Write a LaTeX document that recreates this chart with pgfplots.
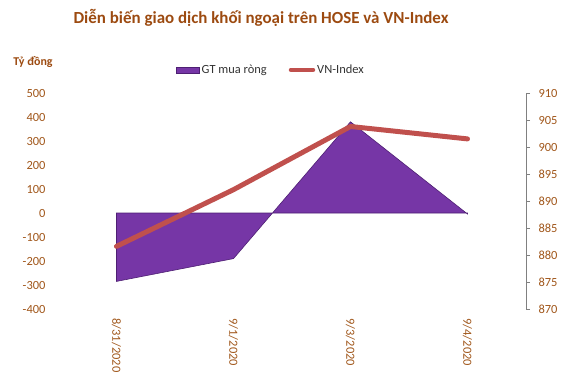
\documentclass[border=0pt]{standalone}
\usepackage{fontspec}
\setmainfont{Carlito}
\usepackage{pgfplots}
\pgfplotsset{compat=1.18}
\definecolor{titlec}{HTML}{9C4A10}
\definecolor{tickc}{HTML}{A0561A}
\definecolor{areac}{HTML}{7636A6}
\definecolor{areadark}{HTML}{4E1F73}
\definecolor{linec}{HTML}{C0504D}
\begin{document}
\begin{tikzpicture}
\useasboundingbox (0,0) rectangle (573bp,-376bp);
\node[font=\fontsize{17}{20}\selectfont\bfseries, text=titlec] at (261bp,-18bp) {Diễn biến giao dịch khối ngoại trên HOSE và VN-Index};
\node[font=\fontsize{12}{14}\selectfont\bfseries, text=titlec] at (33bp,-62bp) {Tỷ đồng};
\begin{axis}[
  at={(58bp,-309bp)}, anchor=south west,
  width=468bp, height=216bp, scale only axis,
  xmin=-0.5, xmax=3.5, ymin=-400, ymax=500,
  axis x line*=bottom, axis y line*=left,
  axis line style={draw=none},
  major tick length=0pt,
  xtick={0,1,2,3},
  xticklabels={8/31/2020,9/1/2020,9/3/2020,9/4/2020},
  x tick label style={yshift=-6bp, rotate=-90, anchor=west, font=\fontsize{12.5}{14}\selectfont, text=tickc},
  ytick={-400,-300,...,500},
  y tick label style={xshift=-9bp, font=\fontsize{12.5}{14}\selectfont, text=tickc},
  /pgf/number format/assume math mode=true,
  legend style={at={(0.455,1.107)}, anchor=center, draw=none, fill=none,
    font=\fontsize{12.5}{14}\selectfont, text=black!80, legend columns=2,
    /tikz/every even column/.append style={column sep=20bp}},
  legend cell align=left,
]
\addplot[fill=areac, draw=areadark, line width=0.6pt,
  area legend,
  legend image code/.code={\draw[fill=areac, draw=areadark] (0bp,-3bp) rectangle (23bp,3bp);}]
  coordinates {(0,0) (0,-285) (1,-190) (2,380) (3,-4) (3,0)} -- cycle;
\addlegendentry{GT mua ròng}
\addlegendimage{legend image code/.code={\draw[linec, line width=4.5pt, line cap=round] (2bp,0bp) -- (24bp,0bp);}}
\addlegendentry{VN-Index}
\end{axis}
\begin{axis}[
  at={(58bp,-309bp)}, anchor=south west,
  width=468bp, height=216bp, scale only axis,
  xmin=-0.5, xmax=3.5, ymin=870, ymax=910,
  axis x line=none, axis y line*=right,
  y axis line style={draw=gray, line width=0.8pt},
  ytick={870,875,...,910},
  ytick pos=right, tick align=outside,
  major tick length=4bp,
  ytick style={draw=gray, line width=0.8pt},
  y tick label style={xshift=5bp, font=\fontsize{12.5}{14}\selectfont, text=tickc},
  /pgf/number format/assume math mode=true,
]
\addplot[linec, line width=5pt, line cap=round, line join=round]
  coordinates {(0,881.6) (1,892.1) (2,903.8) (3,901.5)};
\end{axis}
\end{tikzpicture}
\end{document}
